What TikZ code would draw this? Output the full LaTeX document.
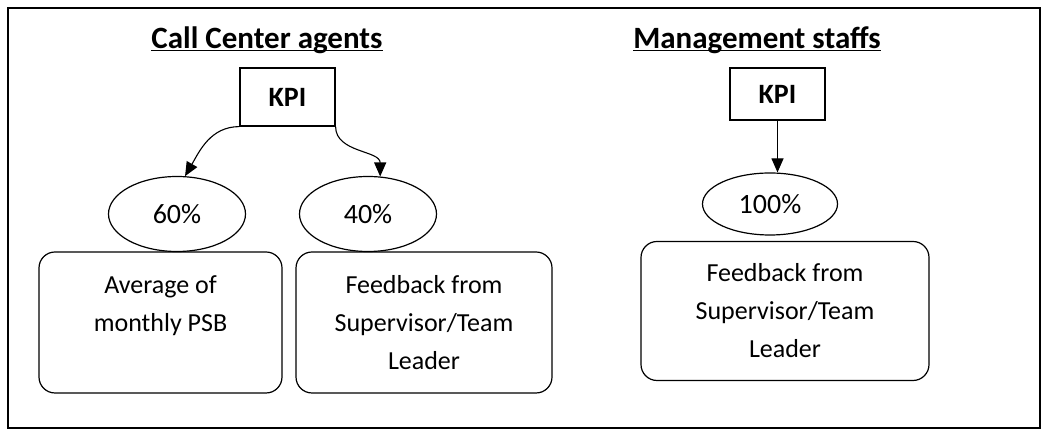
\documentclass[tikz,border=0pt]{standalone}
\usepackage{fontspec}
\setmainfont{Carlito}
\usepackage{tikz}
\usetikzlibrary{arrows.meta}
\usetikzlibrary{shapes.geometric}
\tikzset{
  kpibox/.style={draw, line width=1.2pt, minimum width=95pt, minimum height=58pt,
    font=\fontsize{28}{30}\selectfont\bfseries},
  share/.style={draw, ellipse, line width=1.2pt, inner sep=0pt,
    font=\fontsize{28}{30}\selectfont},
  card/.style={draw, rounded corners=16pt, line width=1.2pt, align=center,
    font=\fontsize{26}{38}\selectfont},
  heading/.style={anchor=base, font=\fontsize{31}{34}\selectfont\bfseries},
  link/.style={line width=1.1pt, -{Triangle[length=14pt,width=12pt]}}
}
\newcommand{\headline}[1]{\underline{\smash{#1}}}

\begin{document}
\begin{tikzpicture}[x=1pt, y=1pt]
  \useasboundingbox (0, 0) rectangle (1046, 430);
  \draw[line width=1.8pt] (8, 2) rectangle (1040, 422);

  % call center side
  \node[heading] (ttlagents) at (267, 381) {\headline{Call Center agents}};
  \node[kpibox] (kpia) at (287.5, 333) {KPI};
  \node[share, minimum width=137pt, minimum height=75pt] (pc60) at (177, 216) {60\%};
  \node[share, minimum width=137pt, minimum height=75pt] (pc40) at (368, 216) {40\%};
  \node[card, minimum width=243pt, minimum height=141pt] (psb) at (160.5, 107.5)
    {Average of\\monthly PSB\\\mbox{}};
  \node[card, minimum width=256pt, minimum height=141pt] (fbagents) at (424, 107.5)
    {Feedback from\\Supervisor/Team\\Leader};
  \draw[link] (kpia.south west) to[out=180, in=60] (pc60.78);
  \draw[link] (kpia.south east) to[out=-90, in=90] (pc40.72);

  % management side
  \node[heading] (ttlmgmt) at (757, 381) {\headline{Management staffs}};
  \node[kpibox, minimum height=52pt] (kpim) at (777.5, 336) {KPI};
  \node[share, minimum width=135pt, minimum height=62pt] (pc100) at (770, 226) {100\%};
  \node[card, minimum width=288pt, minimum height=139pt] (fbmgmt) at (785, 119)
    {Feedback from\\Supervisor/Team\\Leader};
  \draw[link] (kpim.south) -- (kpim.south |- pc100.north);
\end{tikzpicture}
\end{document}
